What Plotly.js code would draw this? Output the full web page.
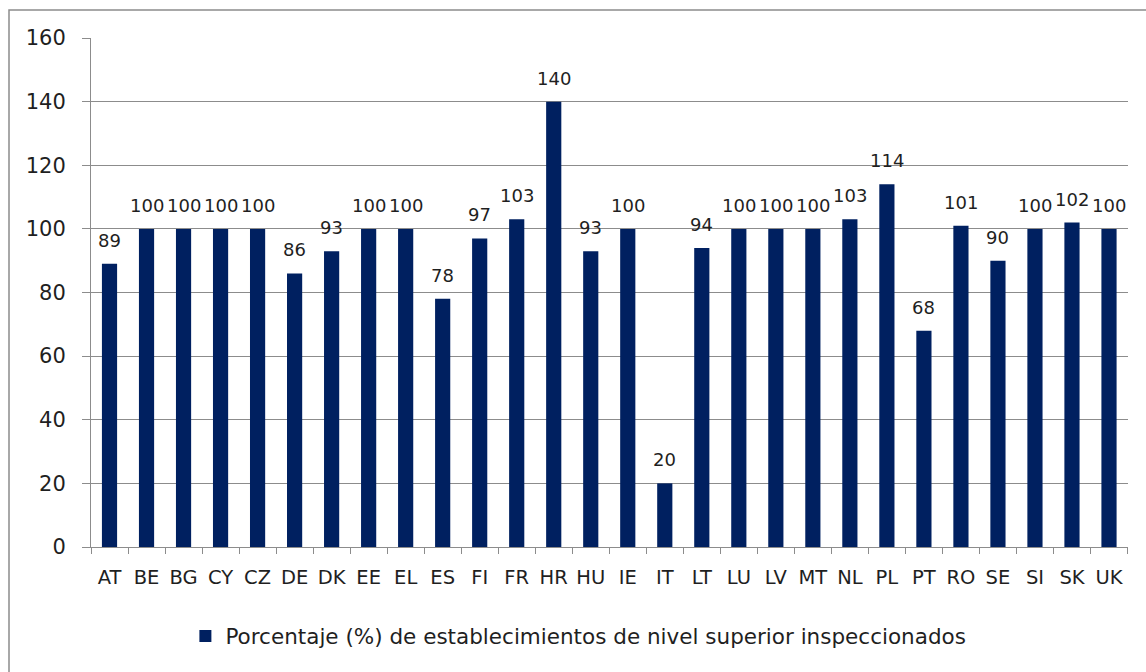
<!DOCTYPE html>
<html>
<head>
<meta charset="utf-8">
<script src="https://cdn.plot.ly/plotly-3.0.1.min.js"></script>
<style>
html,body{margin:0;padding:0;background:#fff;}
#chart{width:1146px;height:672px;}
</style>
</head>
<body>
<div id="chart"></div>
<script>
const countries = ["AT","BE","BG","CY","CZ","DE","DK","EE","EL","ES","FI","FR","HR","HU","IE","IT","LT","LU","LV","MT","NL","PL","PT","RO","SE","SI","SK","UK"];
const values = [89,100,100,100,100,86,93,100,100,78,97,103,140,93,100,20,94,100,100,100,103,114,68,101,90,100,102,100];
const seriesName = "Porcentaje (%) de establecimientos de nivel superior inspeccionados";
const yTicks = [0,20,40,60,80,100,120,140,160];

const barColor = "#002060";
const textColor = "#1f1f1f";
const font = "DejaVu Sans, sans-serif";

const trace = {
  type: "bar",
  x: countries,
  y: values,
  name: seriesName,
  marker: {color: barColor},
  showlegend: true,
  hoverinfo: "x+y"
};

const annotations = countries.map((c, i) => ({
  x: c, y: values[i], xref: "x", yref: "y",
  text: String(values[i]),
  showarrow: false,
  yanchor: "bottom",
  yshift: 11,
  font: {family: font, size: 18, color: textColor}
}));

const layout = {
  width: 1146, height: 672,
  margin: {l: 91, r: 18, t: 38, b: 125},
  paper_bgcolor: "#ffffff",
  plot_bgcolor: "#ffffff",
  bargap: 0.59,
  font: {family: font, color: textColor},
  xaxis: {
    type: "category",
    showline: true, linecolor: "#8c8c8c", linewidth: 1,
    ticks: "outside", tickson: "boundaries", ticklen: 6, tickcolor: "#8c8c8c",
    tickfont: {family: font, size: 19.5, color: textColor},
    tickangle: 0,
    ticklabelstandoff: 13,
    showgrid: false, zeroline: false, fixedrange: true
  },
  yaxis: {
    range: [0, 160],
    tickvals: yTicks,
    ticktext: yTicks.map(String),
    showline: true, linecolor: "#8c8c8c", linewidth: 1,
    ticks: "outside", ticklen: 8, tickcolor: "#8c8c8c",
    showgrid: true, gridcolor: "#8c8c8c", gridwidth: 1,
    zeroline: false,
    tickfont: {family: font, size: 21, color: textColor},
    ticklabelstandoff: 12,
    fixedrange: true
  },
  legend: {
    orientation: "h",
    x: 0.47, xanchor: "center",
    y: -0.175, yanchor: "middle",
    font: {family: font, size: 21.5, color: textColor},
    bgcolor: "rgba(0,0,0,0)"
  },
  annotations: annotations,
  shapes: [{
    type: "rect", xref: "paper", yref: "paper",
    x0: (9 - 91) / 1037, x1: (1160 - 91) / 1037,
    y0: (547 - 690) / 509, y1: (547 - 10) / 509,
    line: {color: "#8c8c8c", width: 1.5},
    fillcolor: "rgba(0,0,0,0)",
    layer: "below"
  }]
};

Plotly.newPlot("chart", [trace], layout, {displayModeBar: false, staticPlot: true});
</script>
</body>
</html>
